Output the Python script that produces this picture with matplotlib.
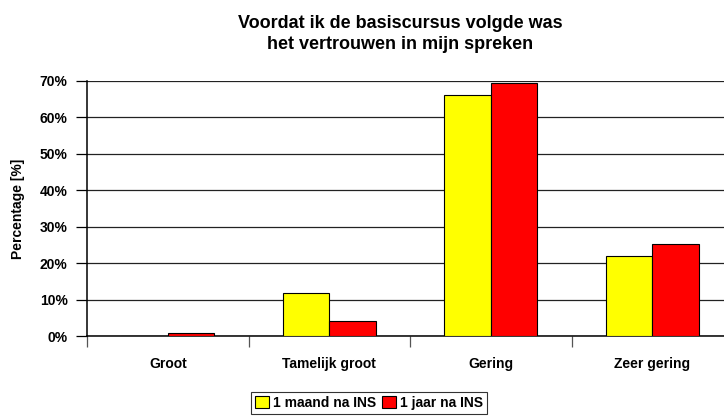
import matplotlib
matplotlib.use("Agg")
import matplotlib.pyplot as plt
import numpy as np
from matplotlib.patches import Patch

categories = ["Groot", "Tamelijk groot", "Gering", "Zeer gering"]
maand = [0.0, 11.8, 66.2, 21.9]
jaar = [0.8, 4.2, 69.4, 25.3]
series_names = ["1 maand na INS", "1 jaar na INS"]
yticks = [0, 10, 20, 30, 40, 50, 60, 70]

plt.rcParams["font.family"] = ["Liberation Sans", "DejaVu Sans"]
plt.rcParams["font.weight"] = "bold"

fig = plt.figure(figsize=(7.24, 4.17), dpi=100)
ax = fig.add_axes([87 / 724, 81 / 417, 646 / 724, 255 / 417])

x = np.arange(len(categories))
w = 0.287
ax.bar(x - w / 2, maand, width=w, color="#ffff00", edgecolor="black", linewidth=0.8, zorder=3)
ax.bar(x + w / 2, jaar, width=w, color="#ff0000", edgecolor="black", linewidth=0.8, zorder=3)

ax.set_xlim(-0.5, len(categories) - 0.5)
ax.set_ylim(0, 70)
ax.set_yticks(yticks)
ax.set_yticklabels([f"{v}%" for v in yticks], fontsize=10, fontweight="bold")
ax.yaxis.grid(True, color="#222222", linewidth=0.9)
ax.set_axisbelow(True)

# category labels in the middle, tick marks at the boundaries
ax.set_xticks(np.arange(len(categories) + 1) - 0.5)
ax.set_xticklabels([])
ax.tick_params(axis="x", length=8, width=0.9, color="#555555")
ax.tick_params(axis="y", length=8, width=0.9, pad=6)
for xi, c in zip(x, categories):
    ax.text(xi, -28 / 255, c, transform=ax.get_xaxis_transform(), ha="center", va="center",
            fontsize=10, fontweight="bold")

for s in ["top", "right"]:
    ax.spines[s].set_visible(False)
ax.spines["left"].set_linewidth(1.1)
ax.spines["bottom"].set_linewidth(1.1)

ax.set_ylabel("Percentage [%]", fontsize=10, fontweight="bold")
ax.yaxis.set_label_coords(-62 / 646, 0.5)

fig.text(400 / 724, 1 - 34 / 417, "Voordat ik de basiscursus volgde was\nhet vertrouwen in mijn spreken",
         ha="center", va="center", fontsize=13, fontweight="bold", linespacing=1.3)

handles = [Patch(facecolor="#ffff00", edgecolor="black", linewidth=0.8),
           Patch(facecolor="#ff0000", edgecolor="black", linewidth=0.8)]
leg = fig.legend(handles, series_names, loc="center", bbox_to_anchor=(369 / 724, 1 - 403 / 417),
                 ncol=2, frameon=True, fancybox=False, edgecolor="black",
                 handlelength=1.0, handleheight=1.0, handletextpad=0.3, columnspacing=0.4,
                 borderpad=0.3, borderaxespad=0, prop={"weight": "bold", "size": 10})
leg.get_frame().set_linewidth(0.8)

fig.savefig("out.png", dpi=100)
